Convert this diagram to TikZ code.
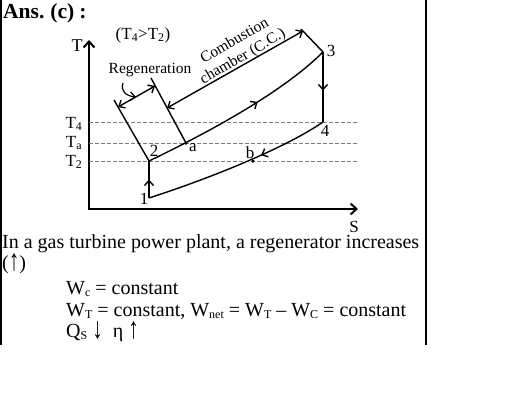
\documentclass[tikz,border=0pt]{standalone}
\usepackage{fontspec}
\setmainfont{Liberation Serif}
\usetikzlibrary{arrows.meta,decorations.markings}
\newcommand{\uparr}{\raisebox{-1pt}{\scalebox{1.05}[1.5]{↑}}}
\newcommand{\downarr}{\raisebox{-1pt}{\scalebox{1.05}[1.5]{↓}}}
\newcommand{\sbs}[1]{\raisebox{-2pt}{\fontsize{12}{12}\selectfont #1}}
\begin{document}
\begin{tikzpicture}[x=1pt,y=-1pt,
  lbl/.style={inner sep=0pt,font=\fontsize{17}{17}\selectfont},
  body/.style={inner sep=0pt,anchor=west,font=\fontsize{20}{20}\selectfont},
  curve/.style={line width=1.4pt},
  dashline/.style={draw=gray,line width=0.9pt,dash pattern=on 4pt off 2pt},
  tip/.style={-{Straight Barb[length=5pt,width=9pt]}},
  dtip/.style={{Straight Barb[length=5pt,width=9pt]}-{Straight Barb[length=5pt,width=9pt]}},
  midarrow/.style={postaction={decorate},decoration={markings,
     mark=at position #1 with {\arrow{Straight Barb[length=5pt,width=9pt]}}}},
  dot/.style={circle,fill=black,inner sep=0pt,minimum size=3.5pt}]
\useasboundingbox (0,0) rectangle (512,410);
% frame
\draw[line width=1.3pt] (1,0) -- (1,345);
\draw[line width=1.3pt] (426,0) -- (426,345);
% title
\node[inner sep=0pt,anchor=west,font=\fontsize{21.5}{21.5}\selectfont\bfseries] (ans) at (3,13) {Ans.\hspace{6pt}(c)\hspace{5pt}:};
% axes
\coordinate (O) at (89,209);
\coordinate (Ttip) at (89,40);
\coordinate (Stip) at (358,209);
\draw[line width=2pt,{Straight Barb[length=6pt,width=11pt]}-{Straight Barb[length=6pt,width=11pt]}] (Ttip) -- (O) -- (Stip);
\node[lbl,font=\fontsize{18}{18}\selectfont] (Tl) at (77,46) {T};
\node[lbl] (Sl) at (354,227) {S};
\node[lbl] (cond) at (143,35) {(T\textsubscript{4}>T\textsubscript{2})};
% state points
\coordinate (p1) at (149,198);
\coordinate (p2) at (149,161);
\coordinate (pa) at (186,143);
\coordinate (p3) at (323,52);
\coordinate (p4) at (323,122);
\coordinate (pb) at (253,161);
% dashed temperature lines
\coordinate (d4l) at (89,122); \coordinate (d4r) at (357,122);
\coordinate (dal) at (89,143); \coordinate (dar) at (357,143);
\coordinate (d2l) at (89,161); \coordinate (d2r) at (357,161);
\draw[dashline] (d4l) -- (d4r);
\draw[dashline] (dal) -- (dar);
\draw[dashline] (d2l) -- (d2r);
\node[lbl] (T4) at (74,124) {T\textsubscript{4}};
\node[lbl] (Ta) at (74,143) {T\textsubscript{a}};
\node[lbl] (T2) at (74,162) {T\textsubscript{2}};
% cycle
\draw[curve,midarrow=0.5] (p1) -- (p2);
\draw[curve,midarrow=0.6] (p2) .. controls (230,122) and (290,85) .. (p3);
\draw[curve,midarrow=0.55] (p3) -- (p4);
\draw[curve,midarrow=0.37] (p4) .. controls (290,145) and (220,175) .. (p1);
\node[dot] (da) at (pa) {};
\node[dot] (db) at (pb) {};
\node[lbl] (l1) at (144,199) {1};
\node[lbl] (l2) at (154,151) {2};
\node[lbl] (la) at (193,148) {a};
\node[lbl] (lb) at (250,153) {b};
\node[lbl] (l3) at (331,51) {3};
\node[lbl] (l4) at (325,131) {4};
% regeneration bracket
\coordinate (r1) at (114,100);
\coordinate (r2) at (151,78);
\coordinate (c3) at (301,29);
\draw[curve] (p2) -- (r1);
\draw[curve] (pa) -- (r2);
\draw[curve] (p3) -- (c3);
\coordinate (ra) at (118,107);
\coordinate (rb) at (155,86);
\draw[curve,dtip] (ra) -- (rb);
\coordinate (ca) at (167,108);
\coordinate (cb) at (303,31);
\draw[curve,dtip] (ca) -- (cb);
\node[inner sep=0pt,font=\fontsize{15.5}{15.5}\selectfont] (reg) at (150,70) {Regeneration};
\coordinate (rc) at (136,97);
\draw[line width=1.2pt,tip] (123,83) .. controls (120,92) and (127,96) .. (rc);
\node[inner sep=0pt,rotate=30,font=\fontsize{15.5}{15.5}\selectfont] (cc1) at (234,40) {Combustion};
\node[inner sep=0pt,rotate=30,font=\fontsize{15.5}{15.5}\selectfont] (cc2) at (243,57) {chamber (C.C.)};
% text
\node[body] (t1) at (2,244) {In a gas turbine power plant, a regenerator increases};
\node[body] (t2) at (2,264) {(\uparr)};
\node[body] (t3) at (66,289) {W\sbs{c} = constant};
\node[body] (t4) at (66,311) {W\sbs{T} = constant, W\sbs{net} = W\sbs{T} – W\sbs{C} = constant};
\node[body] (t5) at (66,332) {Q\sbs{S} \downarr\hspace{10pt}η \uparr};
\end{tikzpicture}
\end{document}
